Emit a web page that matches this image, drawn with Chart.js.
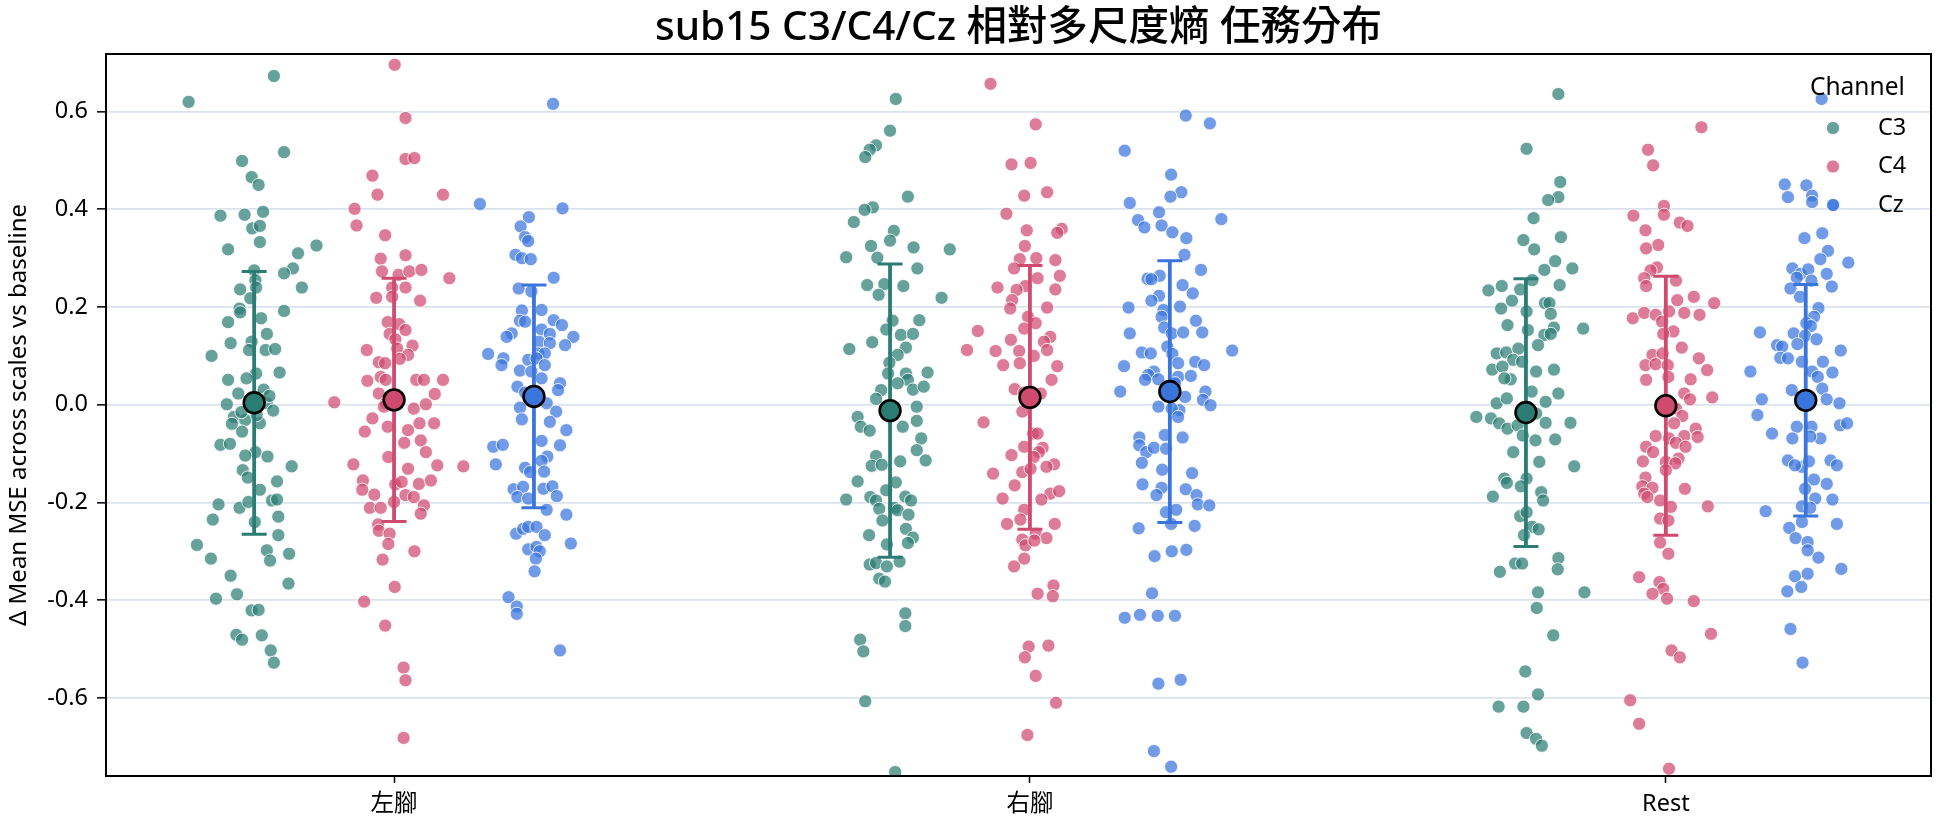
<!DOCTYPE html>
<html>
<head>
<meta charset="utf-8">
<script src="https://cdn.jsdelivr.net/npm/chart.js@4.4.1/dist/chart.umd.min.js"></script>
<style>
  html, body { margin: 0; padding: 0; background: #fff; }
  canvas { display: block; }
</style>
</head>
<body>
<canvas id="chart" width="1944" height="827"></canvas>
<script>
// categories / channels / ticks
const categories = ['左腳', '右腳', 'Rest'];
const channels = ['C3', 'C4', 'Cz'];
const yTicks = [-0.6, -0.4, -0.2, 0.0, 0.2, 0.4, 0.6];

// mean and SD per category, one array per channel
const meanC3 = [0.004, -0.012, -0.016];
const sdC3 = [0.269, 0.300, 0.274];
const meanC4 = [0.010, 0.015, -0.002];
const sdC4 = [0.249, 0.270, 0.265];
const meanCz = [0.017, 0.027, 0.009];
const sdCz = [0.228, 0.268, 0.237];

// individual points: [jitter, value]
const leftC3 = [
  [-0.103,0.620],[0.031,0.673],[0.047,0.517],[-0.019,0.499],[-0.004,0.466],[0.007,0.450],
  [-0.053,0.387],[-0.015,0.389],[0.014,0.395],[-0.003,0.361],[0.009,0.366],[-0.041,0.318],
  [0.009,0.333],[0.098,0.326],[0.069,0.310],[0.061,0.279],[0.047,0.269],[0.075,0.240],
  [0.000,0.275],[0.002,0.255],[-0.022,0.236],[0.003,0.240],[-0.006,0.218],[-0.023,0.197],
  [-0.022,0.189],[0.047,0.192],[-0.041,0.169],[0.011,0.177],[0.020,0.145],[-0.037,0.126],
  [-0.004,0.129],[-0.008,0.112],[0.018,0.112],[0.033,0.114],[-0.067,0.100],[0.003,0.064],
  [-0.012,0.054],[0.040,0.066],[-0.041,0.051],[0.015,0.031],[-0.025,0.023],[-0.043,0.001],
  [0.020,0.003],[0.030,-0.012],[-0.032,-0.025],[-0.014,-0.031],[0.009,-0.038],[-0.019,-0.055],
  [0.010,0.010],[-0.020,-0.015],[0.024,0.018],[0.004,-0.021],
  [-0.035,-0.039],[-0.053,-0.082],[-0.038,-0.080],[0.002,-0.097],[-0.014,-0.104],[0.021,-0.106],
  [0.059,-0.126],[-0.018,-0.134],[-0.010,-0.149],[0.009,-0.174],[0.036,-0.157],[-0.056,-0.204],
  [-0.023,-0.211],[-0.009,-0.199],[0.028,-0.196],[0.036,-0.194],[-0.065,-0.235],[0.001,-0.240],
  [0.038,-0.229],[-0.090,-0.287],[0.038,-0.267],[-0.068,-0.315],[0.020,-0.298],[0.025,-0.319],
  [0.055,-0.305],[-0.037,-0.350],[0.054,-0.366],[-0.060,-0.397],[-0.027,-0.388],[-0.004,-0.421],
  [0.007,-0.420],[-0.028,-0.471],[-0.019,-0.481],[0.012,-0.472],[0.026,-0.503],[0.031,-0.528]
];
const leftC4 = [
  [0.001,0.696],[0.018,0.587],[0.018,0.503],[0.032,0.505],[-0.034,0.469],[-0.026,0.430],
  [0.077,0.430],[-0.062,0.401],[-0.059,0.367],[-0.014,0.347],[-0.021,0.299],[0.018,0.306],
  [-0.019,0.273],[0.007,0.266],[0.024,0.273],[0.043,0.276],[0.087,0.259],[-0.003,0.240],
  [0.018,0.240],[-0.028,0.219],[-0.003,0.221],[0.041,0.213],[-0.010,0.169],[0.008,0.165],
  [0.018,0.153],[-0.007,0.145],[0.002,0.134],[-0.043,0.112],[0.029,0.121],[0.005,0.115],
  [0.022,0.102],[-0.024,0.087],[-0.014,0.085],[0.009,0.094],[-0.094,0.005],[-0.042,0.049],
  [-0.021,0.057],[-0.013,0.051],[0.035,0.051],[0.047,0.051],[0.077,0.051],[0.064,0.022],
  [-0.024,0.023],[-0.013,0.003],[0.031,-0.008],[0.050,0.001],[-0.034,-0.028],[-0.010,-0.045],
  [0.022,-0.052],[0.040,-0.038],[0.063,-0.038],[-0.046,-0.055],[-0.016,-0.004],[0.016,-0.078],
  [0.042,-0.073],[0.050,-0.097],[-0.009,-0.107],[-0.064,-0.122],[0.068,-0.124],[0.109,-0.126],
  [0.022,-0.131],[-0.049,-0.155],[0.002,-0.163],[0.012,-0.158],[0.039,-0.162],[0.058,-0.155],
  [-0.050,-0.174],[-0.031,-0.184],[0.018,-0.185],[0.031,-0.189],[-0.038,-0.211],[-0.021,-0.211],
  [0.000,-0.199],[0.047,-0.206],[0.042,-0.223],[-0.025,-0.245],[-0.024,-0.258],[-0.007,-0.264],
  [-0.009,-0.285],[0.032,-0.300],[-0.018,-0.317],[0.001,-0.373],[-0.047,-0.403],[-0.014,-0.452],
  [0.015,-0.538],[0.018,-0.564],[0.015,-0.682]
];
const leftCz = [
  [0.030,0.616],[-0.085,0.411],[0.045,0.402],[-0.008,0.384],[-0.021,0.365],[-0.014,0.343],
  [-0.009,0.335],[-0.029,0.307],[-0.019,0.300],[-0.005,0.298],[0.031,0.260],[-0.024,0.238],
  [-0.004,0.232],[-0.019,0.193],[0.012,0.194],[-0.022,0.172],[-0.014,0.170],[0.031,0.173],
  [0.044,0.163],[-0.035,0.146],[-0.043,0.139],[0.012,0.154],[0.025,0.145],[0.062,0.139],
  [0.008,0.129],[0.025,0.126],[0.049,0.122],[0.007,0.105],[0.017,0.105],[-0.072,0.104],
  [-0.048,0.095],[-0.051,0.081],[-0.009,0.092],[0.004,0.095],[0.017,0.081],[-0.022,0.070],
  [-0.004,0.068],[0.012,0.054],[0.041,0.044],[0.038,0.030],[-0.026,0.037],[-0.014,0.025],
  [0.020,0.003],[-0.022,-0.006],[0.035,-0.014],[-0.019,-0.030],[0.025,-0.035],[0.051,-0.052],
  [0.012,-0.074],[-0.064,-0.086],[-0.049,-0.082],[0.041,-0.083],[-0.060,-0.122],[0.021,-0.106],
  [0.012,-0.115],[-0.014,-0.129],[-0.006,-0.138],[0.016,-0.137],[-0.032,-0.173],[-0.017,-0.168],
  [0.015,-0.172],[0.029,-0.167],[-0.026,-0.189],[-0.009,-0.192],[0.036,-0.187],[0.020,-0.215],
  [0.051,-0.225],[-0.028,-0.264],[-0.017,-0.254],[-0.009,-0.250],[0.004,-0.250],[0.017,-0.267],
  [0.058,-0.284],[-0.009,-0.296],[0.004,-0.291],[0.009,-0.300],[0.003,-0.315],[0.001,-0.341],
  [-0.040,-0.394],[-0.027,-0.413],[-0.027,-0.428],[0.041,-0.503]
];
const rightC3 = [
  [0.009,0.626],[0.000,0.561],[-0.022,0.531],[-0.032,0.522],[-0.039,0.507],[0.028,0.426],
  [-0.027,0.404],[-0.040,0.399],[-0.057,0.374],[0.006,0.356],[0.000,0.336],[-0.030,0.325],
  [0.037,0.322],[0.094,0.318],[-0.069,0.302],[-0.020,0.301],[0.043,0.279],[-0.036,0.245],
  [-0.009,0.247],[0.021,0.243],[-0.018,0.225],[0.081,0.219],[0.004,0.172],[0.046,0.173],
  [-0.006,0.154],[0.017,0.143],[0.036,0.145],[-0.064,0.114],[-0.028,0.128],[0.025,0.117],
  [0.012,0.102],[-0.001,0.086],[0.059,0.066],[-0.003,0.064],[0.025,0.064],[0.028,0.051],
  [0.012,0.044],[0.036,0.031],[0.053,0.037],[-0.014,0.030],[-0.022,0.012],[0.042,-0.004],
  [-0.051,-0.025],[-0.046,-0.045],[-0.032,-0.053],[0.042,-0.033],[0.020,-0.045],[0.049,-0.069],
  [0.042,-0.093],[0.056,-0.114],[-0.022,-0.105],[-0.029,-0.125],[-0.013,-0.123],[0.016,-0.116],
  [-0.051,-0.157],[0.009,-0.159],[-0.069,-0.194],[-0.031,-0.189],[-0.022,-0.196],[-0.006,-0.175],
  [0.024,-0.188],[0.033,-0.196],[-0.017,-0.213],[0.007,-0.211],[0.012,-0.216],[0.029,-0.225],
  [-0.012,-0.237],[0.025,-0.254],[-0.033,-0.267],[0.036,-0.272],[-0.005,-0.286],[0.028,-0.283],
  [-0.032,-0.327],[-0.022,-0.324],[-0.005,-0.331],[0.015,-0.321],[-0.017,-0.356],[-0.008,-0.362],
  [0.024,-0.427],[0.024,-0.453],[-0.047,-0.481],[-0.042,-0.505],[-0.039,-0.607],[0.008,-0.752]
];
const rightC4 = [
  [-0.062,0.657],[0.009,0.574],[-0.029,0.492],[0.001,0.495],[-0.009,0.428],[0.027,0.435],
  [-0.037,0.391],[-0.005,0.357],[0.050,0.360],[0.043,0.352],[-0.008,0.325],[-0.016,0.298],
  [0.010,0.300],[0.040,0.296],[-0.025,0.279],[0.047,0.264],[0.012,0.259],[-0.007,0.243],
  [-0.051,0.240],[-0.021,0.235],[0.040,0.236],[-0.028,0.214],[-0.031,0.197],[0.027,0.199],
  [-0.003,0.180],[0.009,0.167],[-0.009,0.156],[-0.082,0.151],[0.032,0.139],[-0.030,0.133],
  [0.022,0.129],[-0.099,0.112],[-0.054,0.110],[-0.017,0.110],[0.027,0.112],[0.006,0.100],
  [-0.042,0.081],[-0.016,0.085],[0.043,0.079],[0.034,0.051],[-0.024,0.032],[-0.009,0.025],
  [0.017,0.023],[-0.073,-0.036],[-0.012,-0.014],[0.005,-0.059],[0.012,-0.059],[-0.029,-0.103],
  [-0.009,-0.086],[0.020,-0.088],[0.014,-0.097],[0.006,-0.107],[0.038,-0.122],[0.026,-0.127],
  [-0.058,-0.141],[-0.012,-0.138],[0.001,-0.131],[-0.024,-0.165],[0.032,-0.182],[0.046,-0.177],
  [-0.043,-0.192],[0.018,-0.194],[-0.009,-0.215],[-0.036,-0.244],[-0.015,-0.235],[0.039,-0.244],
  [0.009,-0.264],[0.026,-0.273],[-0.012,-0.276],[-0.007,-0.288],[0.007,-0.278],[-0.009,-0.315],
  [-0.025,-0.331],[0.037,-0.370],[0.012,-0.387],[0.036,-0.392],[-0.002,-0.495],[0.029,-0.493],
  [-0.008,-0.517],[0.009,-0.555],[0.041,-0.610],[-0.004,-0.676]
];
const rightCz = [
  [0.025,0.592],[0.063,0.576],[-0.071,0.520],[0.002,0.471],[0.018,0.435],[0.001,0.426],
  [-0.063,0.413],[0.081,0.380],[-0.017,0.394],[-0.050,0.378],[-0.040,0.363],[-0.013,0.367],
  [0.004,0.353],[0.026,0.341],[0.023,0.307],[0.049,0.276],[-0.035,0.258],[-0.016,0.264],
  [-0.029,0.257],[0.020,0.245],[0.036,0.228],[-0.017,0.223],[-0.029,0.213],[-0.065,0.199],
  [0.016,0.201],[-0.010,0.194],[-0.013,0.180],[0.041,0.172],[-0.009,0.158],[-0.063,0.146],
  [0.003,0.146],[0.021,0.148],[0.051,0.148],[-0.004,0.119],[-0.044,0.107],[-0.030,0.105],
  [0.004,0.104],[0.098,0.111],[-0.072,0.079],[0.013,0.085],[0.040,0.088],[0.054,0.081],
  [-0.025,0.068],[-0.034,0.061],[0.013,0.057],[0.033,0.059],[-0.039,0.051],[-0.018,0.052],
  [0.008,0.044],[-0.004,0.030],[-0.078,0.027],[0.056,0.027],[0.024,0.016],[0.052,0.010],
  [0.064,-0.001],[-0.018,-0.004],[0.015,-0.011],[0.003,-0.008],[0.013,-0.025],[-0.048,-0.067],
  [-0.008,-0.062],[0.020,-0.067],[-0.048,-0.083],[-0.037,-0.097],[-0.025,-0.088],[-0.006,-0.090],
  [-0.044,-0.119],[-0.012,-0.133],[0.035,-0.140],[-0.043,-0.163],[-0.013,-0.170],[0.025,-0.173],
  [-0.021,-0.185],[0.042,-0.185],[0.044,-0.204],[0.062,-0.206],[-0.006,-0.220],[0.010,-0.215],
  [-0.049,-0.253],[0.002,-0.244],[0.039,-0.248],[-0.024,-0.310],[0.003,-0.300],[0.026,-0.297],
  [-0.028,-0.386],[-0.071,-0.436],[-0.047,-0.430],[-0.019,-0.432],[0.008,-0.432],[-0.018,-0.571],
  [0.017,-0.563],[-0.025,-0.709],[0.002,-0.741]
];
const restC3 = [
  [0.051,0.636],[0.001,0.524],[0.054,0.456],[0.051,0.425],[0.035,0.419],[0.012,0.382],
  [-0.004,0.337],[0.055,0.343],[0.013,0.318],[0.046,0.294],[0.029,0.276],[0.073,0.279],
  [0.010,0.255],[-0.059,0.234],[-0.038,0.243],[-0.009,0.236],[0.053,0.245],[-0.022,0.213],
  [-0.039,0.197],[0.030,0.208],[0.037,0.208],[0.001,0.191],[0.039,0.186],[-0.029,0.163],
  [0.003,0.153],[0.044,0.158],[0.090,0.156],[0.029,0.143],[0.039,0.145],[0.019,0.122],
  [-0.046,0.105],[-0.031,0.107],[-0.012,0.115],[-0.020,0.092],[-0.006,0.088],[-0.053,0.072],
  [-0.037,0.078],[0.016,0.068],[0.044,0.072],[-0.024,0.052],[-0.034,0.054],[0.051,0.023],
  [0.009,0.027],[-0.046,0.003],[-0.030,0.013],[0.031,0.006],[-0.078,-0.025],[-0.055,-0.028],
  [-0.042,-0.038],[0.016,-0.018],[0.031,-0.037],[0.070,-0.037],[-0.029,-0.049],[-0.013,-0.042],
  [-0.005,-0.063],[0.015,-0.073],[0.046,-0.071],[-0.020,-0.097],[0.021,-0.117],[0.076,-0.126],
  [-0.034,-0.151],[-0.030,-0.160],[0.001,-0.151],[-0.008,-0.167],[-0.052,-0.188],[0.024,-0.179],
  [0.027,-0.196],[-0.009,-0.228],[0.001,-0.220],[0.010,-0.250],[0.020,-0.255],[-0.003,-0.267],
  [-0.017,-0.325],[-0.006,-0.325],[-0.041,-0.342],[0.051,-0.314],[0.050,-0.337],[0.019,-0.384],
  [0.092,-0.384],[0.017,-0.416],[0.043,-0.472],[-0.001,-0.546],[0.019,-0.593],[-0.043,-0.618],
  [-0.004,-0.618],[0.001,-0.672],[0.016,-0.684],[0.025,-0.698]
];
const restC4 = [
  [0.056,0.568],[-0.028,0.522],[-0.020,0.490],[-0.003,0.407],[-0.003,0.389],[-0.051,0.387],
  [0.022,0.373],[0.034,0.366],[-0.032,0.357],[-0.012,0.327],[-0.031,0.320],[-0.014,0.281],
  [-0.024,0.275],[-0.034,0.259],[-0.031,0.243],[0.016,0.254],[0.044,0.221],[0.018,0.214],
  [0.076,0.208],[-0.052,0.177],[-0.034,0.188],[-0.016,0.184],[0.005,0.191],[0.029,0.188],
  [0.053,0.184],[-0.006,0.170],[0.012,0.150],[-0.004,0.145],[0.025,0.117],[-0.021,0.102],
  [-0.005,0.105],[-0.032,0.081],[-0.016,0.083],[0.003,0.081],[0.052,0.095],[0.065,0.071],
  [-0.031,0.051],[0.004,0.057],[0.039,0.052],[0.029,0.023],[0.038,0.011],[0.073,0.015],
  [0.016,-0.008],[0.026,-0.023],[0.013,-0.038],[0.047,-0.049],[-0.016,-0.064],[0.005,-0.069],
  [0.029,-0.064],[0.050,-0.066],[0.016,-0.078],[-0.031,-0.086],[-0.020,-0.097],[0.031,-0.086],
  [0.000,-0.117],[0.020,-0.110],[-0.036,-0.116],[0.015,-0.120],[0.000,-0.134],[-0.032,-0.149],
  [-0.037,-0.167],[-0.021,-0.170],[-0.034,-0.182],[-0.029,-0.189],[0.030,-0.172],[-0.009,-0.196],
  [0.008,-0.209],[0.066,-0.208],[-0.009,-0.233],[0.004,-0.237],[-0.009,-0.282],[0.004,-0.305],
  [-0.042,-0.353],[-0.010,-0.363],[-0.004,-0.377],[-0.021,-0.387],[0.002,-0.397],[0.044,-0.402],
  [0.071,-0.469],[0.009,-0.503],[0.022,-0.517],[-0.056,-0.605],[-0.042,-0.653],[0.005,-0.745]
];
const restCz = [
  [0.025,0.626],[-0.033,0.451],[0.001,0.449],[-0.028,0.425],[0.010,0.428],[0.010,0.415],
  [0.044,0.409],[-0.002,0.341],[0.026,0.351],[0.035,0.315],[0.023,0.298],[0.067,0.291],
  [-0.021,0.279],[-0.008,0.268],[0.004,0.277],[0.033,0.268],[-0.014,0.260],[0.009,0.254],
  [0.041,0.242],[-0.024,0.238],[-0.009,0.221],[0.020,0.198],[0.013,0.180],[0.001,0.167],
  [0.008,0.161],[-0.072,0.148],[-0.019,0.146],[-0.001,0.141],[0.017,0.134],[-0.045,0.122],
  [-0.037,0.119],[-0.013,0.124],[0.055,0.111],[-0.040,0.096],[-0.028,0.095],[-0.006,0.088],
  [0.027,0.088],[-0.087,0.068],[0.010,0.068],[0.042,0.066],[0.019,0.057],[-0.022,0.030],
  [0.026,0.033],[-0.069,0.011],[0.033,0.011],[0.053,0.003],[-0.076,-0.021],[-0.014,-0.045],
  [0.009,-0.045],[0.054,-0.042],[0.065,-0.038],[-0.053,-0.059],[-0.021,-0.069],[0.023,-0.069],
  [0.007,-0.065],[-0.028,-0.114],[-0.006,-0.127],[0.005,-0.116],[0.039,-0.114],[0.049,-0.124],
  [-0.017,-0.124],[0.013,-0.153],[0.033,-0.162],[-0.001,-0.172],[0.015,-0.192],[0.042,-0.194],
  [-0.006,-0.208],[-0.063,-0.218],[0.007,-0.211],[-0.006,-0.240],[0.049,-0.244],[-0.026,-0.252],
  [-0.016,-0.273],[0.003,-0.281],[0.003,-0.298],[0.020,-0.313],[0.056,-0.336],[-0.017,-0.351],
  [0.003,-0.346],[-0.007,-0.373],[-0.029,-0.382],[-0.024,-0.459],[-0.005,-0.528]
];

const titleText = 'sub15 C3/C4/Cz 相對多尺度熵 任務分布';
const yTitle = 'Δ Mean MSE across scales vs baseline';
const FONT = '"Noto Sans", "Noto Sans CJK TC", sans-serif';

// layout / style
const dodge = [-0.22, 0, 0.22];
const colors = ['#2b7d73', '#d04a70', '#3a75dc'];
const groups = [[leftC3, rightC3, restC3], [leftC4, rightC4, restC4], [leftCz, rightCz, restCz]];
const means = [meanC3, meanC4, meanCz];
const sds = [sdC3, sdC4, sdCz];

function rgba(hex, a) {
  const n = parseInt(hex.slice(1), 16);
  return `rgba(${(n >> 16) & 255},${(n >> 8) & 255},${n & 255},${a})`;
}

const pointSets = channels.map((ch, c) => ({
  label: ch,
  data: groups[c].flatMap((grp, i) => grp.map(([j, v]) => ({ x: i + dodge[c] + j, y: v }))),
  backgroundColor: rgba(colors[c], 0.72),
  borderColor: 'rgba(255,255,255,0.85)',
  borderWidth: 1,
  pointRadius: 6.6,
  order: 1
}));

const meanSet = {
  label: 'mean',
  data: channels.flatMap((ch, c) => categories.map((_, i) => ({ x: i + dodge[c], y: means[c][i] }))),
  backgroundColor: channels.flatMap((ch, c) => categories.map(() => colors[c])),
  borderColor: '#000',
  borderWidth: 2.6,
  pointRadius: 10.4,
  order: 0
};

// error bars go between the points and the mean markers
const errorBars = {
  id: 'errorBars',
  beforeDatasetDraw(chart, args) {
    if (args.index !== 3) return;
    const { ctx, scales: { x, y }, chartArea } = chart;
    ctx.save();
    ctx.beginPath();
    ctx.rect(chartArea.left, chartArea.top, chartArea.right - chartArea.left, chartArea.bottom - chartArea.top);
    ctx.clip();
    channels.forEach((ch, c) => {
      categories.forEach((_, i) => {
        const px = x.getPixelForValue(i + dodge[c]);
        const top = y.getPixelForValue(means[c][i] + sds[c][i]);
        const bot = y.getPixelForValue(means[c][i] - sds[c][i]);
        ctx.strokeStyle = colors[c];
        ctx.lineWidth = 3.8;
        ctx.beginPath();
        ctx.moveTo(px, top);
        ctx.lineTo(px, bot);
        ctx.stroke();
        ctx.lineWidth = 3;
        ctx.beginPath();
        ctx.moveTo(px - 12.5, top);
        ctx.lineTo(px + 12.5, top);
        ctx.moveTo(px - 12.5, bot);
        ctx.lineTo(px + 12.5, bot);
        ctx.stroke();
      });
    });
    ctx.restore();
  }
};

// frame, title and legend
const decorations = {
  id: 'decorations',
  afterDatasetsDraw(chart) {
    const { ctx, chartArea: a } = chart;
    ctx.save();
    ctx.strokeStyle = '#000';
    ctx.lineWidth = 2;
    ctx.strokeRect(a.left, a.top, a.right - a.left, a.bottom - a.top);
    ctx.restore();
  },
  afterDraw(chart) {
    const { ctx, chartArea: a } = chart;
    ctx.save();
    ctx.fillStyle = '#000';
    ctx.textBaseline = 'middle';
    ctx.textAlign = 'center';
    ctx.font = `500 40.5px ${FONT}`;
    ctx.fillText(titleText, (a.left + a.right) / 2, 28);

    ctx.textAlign = 'left';
    ctx.font = `24.5px ${FONT}`;
    ctx.fillText('Channel', a.right - 121, a.top + 34);
    ctx.font = `23.5px ${FONT}`;
    channels.forEach((ch, c) => {
      const cy = a.top + 74 + c * 38.5;
      ctx.beginPath();
      ctx.arc(a.right - 98, cy, 6.6, 0, Math.PI * 2);
      ctx.fillStyle = rgba(colors[c], 0.72);
      ctx.fill();
      ctx.strokeStyle = 'rgba(255,255,255,0.85)';
      ctx.lineWidth = 1;
      ctx.stroke();
      ctx.fillStyle = '#000';
      ctx.fillText(ch, a.right - 53, cy);
    });
    ctx.restore();
  }
};

new Chart(document.getElementById('chart'), {
  type: 'scatter',
  data: { datasets: [...pointSets, meanSet] },
  plugins: [errorBars, decorations],
  options: {
    responsive: false,
    animation: false,
    devicePixelRatio: 1,
    layout: { padding: { left: 0, right: 8, top: 54, bottom: 0 } },
    plugins: {
      legend: { display: false },
      tooltip: { enabled: false },
      title: { display: false }
    },
    scales: {
      x: {
        type: 'linear',
        min: -0.453,
        max: 2.417,
        afterBuildTicks: s => { s.ticks = categories.map((_, i) => ({ value: i })); },
        afterFit: s => { s.height = 51; },
        ticks: {
          callback: v => categories[v],
          color: '#000',
          font: { family: FONT, size: 23.5 },
          padding: 7,
          maxRotation: 0,
          autoSkip: false
        },
        grid: { drawOnChartArea: false, drawTicks: true, tickLength: 7, tickColor: '#000', tickWidth: 1.5 },
        border: { display: true, color: '#000', width: 2 }
      },
      y: {
        type: 'linear',
        min: -0.760,
        max: 0.718,
        afterBuildTicks: s => { s.ticks = yTicks.map(v => ({ value: v })); },
        afterFit: s => { s.width = 106; },
        ticks: {
          callback: v => v.toFixed(1),
          color: '#000',
          font: { family: FONT, size: 23.5 },
          padding: 9
        },
        grid: { color: '#dae3ec', lineWidth: 1.7, tickColor: '#000', tickLength: 9, tickWidth: 1.5 },
        border: { display: true, color: '#000', width: 2 },
        title: {
          display: true,
          text: yTitle,
          color: '#000',
          font: { family: FONT, size: 24 },
          padding: { top: 5, bottom: 0 }
        }
      }
    }
  }
});
</script>
</body>
</html>
